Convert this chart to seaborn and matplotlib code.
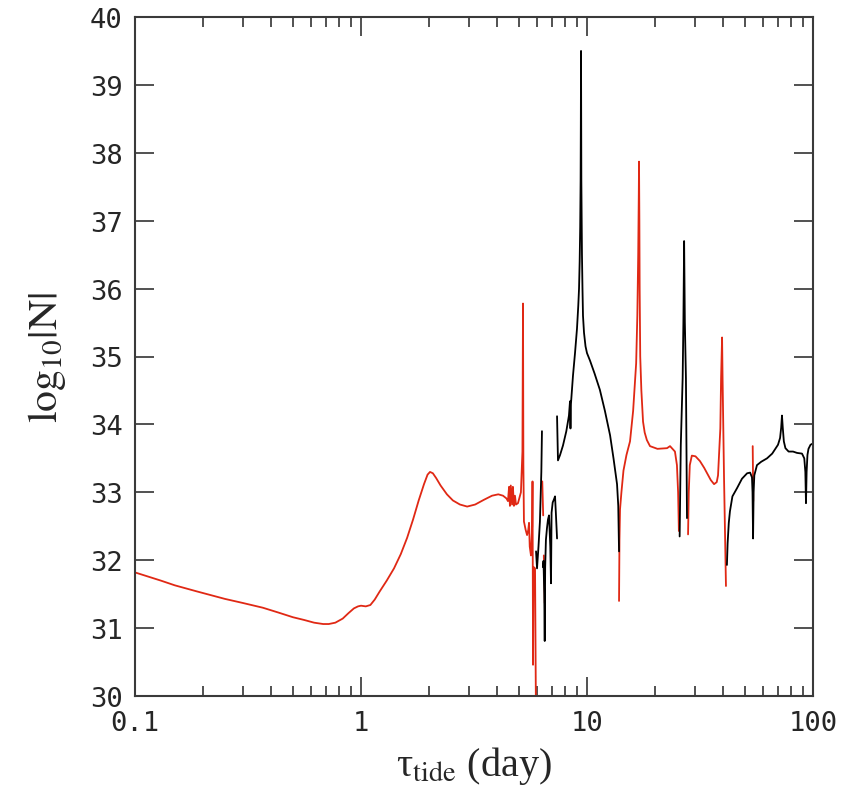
import numpy as np
import pandas as pd
import matplotlib
matplotlib.use("Agg")
import matplotlib.pyplot as plt
import seaborn as sns
from matplotlib.ticker import FixedLocator, FixedFormatter, NullLocator, LogLocator

# Curve pieces (tau in days, log10|N|)
# red = one sign of N, black = the other
red_1_tau = [0.1, 0.13, 0.15, 0.188, 0.25, 0.30, 0.368, 0.43, 0.50, 0.56, 0.62, 0.68, 0.72,
             0.77, 0.83, 0.88, 0.93, 0.97, 1.0, 1.05, 1.1, 1.15, 1.21, 1.3, 1.4, 1.5, 1.6,
             1.7, 1.8, 1.9, 1.97, 2.02, 2.08, 2.15, 2.25, 2.4, 2.55, 2.74, 2.95, 3.2, 3.5,
             3.8, 4.05, 4.25, 4.4, 4.47, 4.52, 4.56, 4.60, 4.66, 4.70, 4.75, 4.80, 4.85,
             4.95, 5.10, 5.18, 5.21, 5.23, 5.26, 5.35, 5.43, 5.50, 5.54, 5.58, 5.65, 5.72,
             5.74, 5.76, 5.77, 5.80, 5.89, 5.95]
red_1_logN = [31.82, 31.70, 31.63, 31.54, 31.43, 31.37, 31.30, 31.23, 31.16, 31.12, 31.08, 31.06, 31.06,
              31.08, 31.14, 31.22, 31.29, 31.32, 31.33, 31.32, 31.34, 31.42, 31.54, 31.70, 31.88, 32.09, 32.33,
              32.60, 32.88, 33.12, 33.26, 33.30, 33.28, 33.21, 33.10, 32.97, 32.88, 32.82, 32.79, 32.82, 32.89,
              32.95, 32.97, 32.95, 32.91, 32.87, 33.08, 32.80, 33.10, 32.82, 33.08, 32.80, 32.95, 32.82,
              32.84, 33.0, 33.6, 35.78, 33.4, 32.57, 32.45, 32.37, 32.45, 32.55, 32.2, 32.07, 32.5,
              33.16, 31.5, 30.46, 31.9, 31.88, 29.5]

black_1_tau = [5.95, 6.01, 6.10, 6.19, 6.28, 6.32]
black_1_logN = [32.13, 31.88, 32.2, 32.57, 33.3, 33.9]

red_2_tau = [6.34, 6.40]
red_2_logN = [33.16, 32.66]

black_2_tau = [6.38, 6.42, 6.47, 6.50, 6.53, 6.58, 6.65, 6.72, 6.79, 6.88, 6.93, 6.97,
               7.05, 7.15, 7.22, 7.28, 7.37]
black_2_logN = [31.9, 31.99, 31.5, 30.81, 31.9, 32.3, 32.47, 32.6, 32.66, 32.2, 31.66, 32.7,
                32.85, 32.9, 32.94, 32.7, 32.32]

red_3_tau = [6.44, 6.47, 6.50]
red_3_logN = [32.07, 31.8, 31.37]

black_3_tau = [7.37, 7.44, 7.6, 7.83, 8.1, 8.32, 8.41, 8.45, 8.49, 8.67, 8.85, 9.03, 9.15,
               9.22, 9.28, 9.33, 9.37, 9.39, 9.41, 9.44, 9.50, 9.55, 9.60, 9.7, 9.85, 10.0,
               10.31, 10.8, 11.4, 12.0, 12.65, 13.1, 13.58, 13.75, 13.86]
black_3_logN = [34.12, 33.47, 33.55, 33.69, 33.9, 34.13, 34.34, 33.94, 34.3, 34.72, 35.05, 35.41, 35.75,
                36.0, 36.4, 36.9, 37.6, 38.4, 39.5, 37.6, 36.5, 36.0, 35.6, 35.35, 35.15, 35.05,
                34.94, 34.75, 34.51, 34.2, 33.84, 33.5, 33.12, 32.8, 32.13]

red_4_tau = [13.86, 13.92, 14.0, 14.2, 14.5, 14.95, 15.5, 16.0, 16.5, 16.7, 16.85, 16.95,
             16.99, 17.05, 17.1, 17.2, 17.4, 17.7, 18.0, 18.4, 19.0, 20.5, 22.6, 23.3, 24.5,
             25.0, 25.3, 25.5]
red_4_logN = [31.40, 32.3, 32.75, 33.0, 33.32, 33.55, 33.75, 34.2, 34.9, 35.6, 36.5, 37.4,
              37.87, 37.0, 36.0, 35.0, 34.5, 34.04, 33.88, 33.77, 33.68, 33.64, 33.65, 33.68, 33.6,
              33.4, 33.0, 32.43]

black_4_tau = [25.7, 26.0, 26.5, 26.7, 26.9, 27.1, 27.4, 27.7]
black_4_logN = [32.35, 33.69, 34.68, 35.5, 36.7, 35.5, 34.68, 32.62]

red_5_tau = [28.0, 28.2, 28.5, 29.1, 30.2, 31.6, 33.0, 34.0, 35.3, 36.5, 37.5, 38.0, 38.9,
             39.2, 39.6, 39.8, 40.4, 41.2]
red_5_logN = [32.38, 33.0, 33.4, 33.54, 33.53, 33.46, 33.36, 33.28, 33.18, 33.12, 33.15, 33.25, 33.94,
              34.68, 35.28, 34.68, 33.2, 31.62]

black_5_tau = [41.6, 41.9, 42.4, 42.9, 44.0, 46.1, 48.5, 51.1, 52.7, 53.7, 54.0, 54.3, 54.6,
               55.0, 56.5, 59.0, 62.6, 66.0, 70.0, 71.5, 72.3, 72.9, 73.5, 74.3, 75.5, 78.0,
               81.6, 85.0, 89.4, 91.5, 92.5, 93.1, 93.7, 94.5, 95.5, 97.5, 100]
black_5_logN = [31.93, 32.25, 32.55, 32.72, 32.94, 33.06, 33.2, 33.28, 33.29, 33.22, 33.0, 32.32, 33.0,
                33.25, 33.40, 33.45, 33.5, 33.57, 33.7, 33.8, 33.95, 34.13, 33.95, 33.75, 33.65, 33.6,
                33.6, 33.58, 33.57, 33.5, 33.3, 32.84, 33.3, 33.55, 33.64, 33.7, 33.72]

red_6_tau = [54.1, 54.25, 54.4]
red_6_logN = [33.68, 33.3, 32.87]

x_ticks = [0.1, 1, 10, 100]
x_ticklabels = ["0.1", "1", "10", "100"]
y_ticks = list(range(30, 41))

segments = [
    ("r1", "red", red_1_tau, red_1_logN),
    ("b1", "black", black_1_tau, black_1_logN),
    ("b2", "black", black_2_tau, black_2_logN),
    ("r2", "red", red_2_tau, red_2_logN),
    ("r3", "red", red_3_tau, red_3_logN),
    ("b3", "black", black_3_tau, black_3_logN),
    ("r4", "red", red_4_tau, red_4_logN),
    ("b4", "black", black_4_tau, black_4_logN),
    ("r5", "red", red_5_tau, red_5_logN),
    ("b5", "black", black_5_tau, black_5_logN),
    ("r6", "red", red_6_tau, red_6_logN),
]
frames = []
for seg, col, tau, logn in segments:
    frames.append(pd.DataFrame({"tau": tau, "logN": logn, "seg": seg, "colour": col}))
df = pd.concat(frames, ignore_index=True)

sns.set_style("ticks")
plt.rcParams["mathtext.fontset"] = "stix"

fig = plt.figure(figsize=(8.45, 8.03), dpi=100)
ax = fig.add_axes([135 / 845, 1 - 697 / 803, (813 - 135) / 845, (697 - 18) / 803])

sns.lineplot(data=df, x="tau", y="logN", hue="colour", units="seg", estimator=None,
             sort=False, palette={"red": "#e02814", "black": "#000000"},
             linewidth=1.3, legend=False, ax=ax)

ax.set_xscale("log")
ax.set_xlim(0.1, 100)
ax.set_ylim(30, 40)
ax.xaxis.set_major_locator(FixedLocator(x_ticks))
ax.xaxis.set_major_formatter(FixedFormatter(x_ticklabels))
ax.xaxis.set_minor_locator(LogLocator(base=10, subs=np.arange(2, 10)))
ax.yaxis.set_major_locator(FixedLocator(y_ticks))
ax.yaxis.set_minor_locator(NullLocator())

for side in ["left", "right", "top", "bottom"]:
    ax.spines[side].set_color("#3a3a3a")
    ax.spines[side].set_linewidth(1.5)

ax.tick_params(which="both", direction="in", top=True, right=True, color="#222222", width=1.1)
ax.tick_params(which="major", length=13.5, labelsize=19.5)
ax.tick_params(which="minor", length=7)
ax.tick_params(axis="x", pad=10)
ax.tick_params(axis="y", pad=9)
for lab in ax.get_xticklabels() + ax.get_yticklabels():
    lab.set_fontfamily("DejaVu Sans Mono")

ax.set_xlabel("\u03c4$_{\\rm tide}$ (day)", fontsize=29, fontfamily="Liberation Serif", labelpad=6)
ax.set_ylabel(r"$\rm log_{10}|N|$", fontsize=30, labelpad=16)

fig.savefig("out.png", dpi=100)
